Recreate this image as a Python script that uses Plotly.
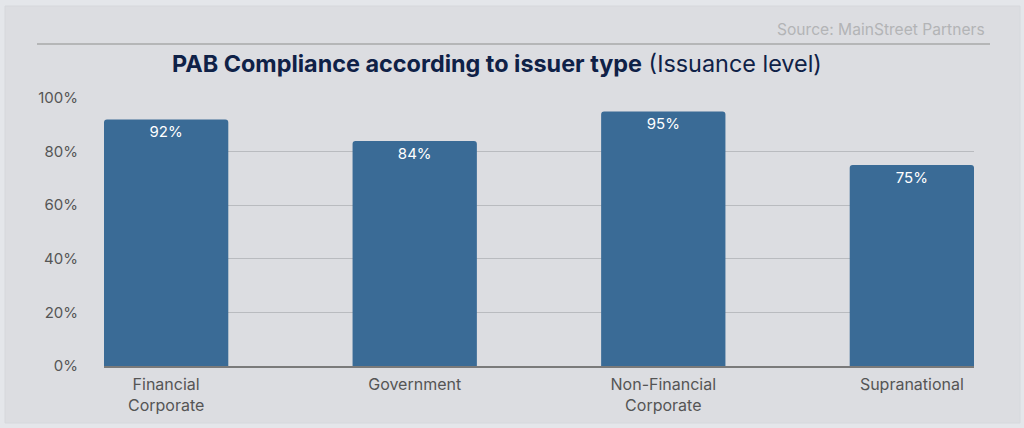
import plotly.graph_objects as go

categories = ["Financial<br>Corporate", "Government", "Non-Financial<br>Corporate", "Supranational"]
values = [92, 84, 95, 75]
tick_vals = [0, 20, 40, 60, 80, 100]
tick_text = ["0%", "20%", "40%", "60%", "80%", "100%"]

W, H = 1024, 428
L, R, T, B = 104, 974, 98, 366

def px(x):
    return (x - L) / (R - L)

def py(y):
    return (B - y) / (B - T)

fig = go.Figure()
fig.add_trace(go.Bar(
    x=categories, y=values,
    text=[f"{v}%" for v in values],
    textposition="inside", insidetextanchor="end",
    textfont=dict(color="white", size=15, family="Inter"),
    marker=dict(color="#3a6b96", cornerradius=3, line=dict(width=0)),
    width=0.5,
    hoverinfo="skip",
))

fig.update_layout(
    width=W, height=H,
    margin=dict(l=L, r=W - R, t=T, b=H - B, pad=0),
    paper_bgcolor="#e4e6ea",
    plot_bgcolor="rgba(0,0,0,0)",
    showlegend=False,
    font=dict(family="Inter", color="#555555"),
    xaxis=dict(
        range=[-0.25, 3.25], showgrid=False, showline=True,
        linecolor="#7a7a7a", linewidth=1.5, ticks="",
        tickfont=dict(size=16, color="#555555"), fixedrange=True,
        ticklabelstandoff=3,
    ),
    yaxis=dict(
        range=[0, 100], tickvals=tick_vals, ticktext=tick_text,
        showgrid=True, gridcolor="#b9bbbf", gridwidth=1,
        zeroline=False, showline=False, ticks="",
        tickfont=dict(size=15, color="#555555"),
        ticklabelstandoff=25, fixedrange=True,
    ),
    shapes=[
        dict(type="rect", xref="paper", yref="paper",
             x0=px(5), x1=px(1020), y0=py(423), y1=py(6),
             fillcolor="#dcdde1", line=dict(color="#d6d8dc", width=1), layer="below"),
        dict(type="line", xref="paper", yref="paper",
             x0=px(37), x1=px(990), y0=py(44), y1=py(44),
             line=dict(color="#a9a9a9", width=1.5), layer="below"),
    ],
    annotations=[
        dict(xref="paper", yref="paper", x=px(497), y=py(64),
             xanchor="center", yanchor="middle", showarrow=False,
             text="<b>PAB Compliance according to issuer type</b> (Issuance level)",
             font=dict(size=23.4, color="#0f2147", family="Inter")),
        dict(xref="paper", yref="paper", x=px(987), y=py(30),
             xanchor="right", yanchor="middle", showarrow=False,
             text="Source: MainStreet Partners",
             font=dict(size=15.6, color="#b3b4b6", family="Inter")),
    ],
)

fig.write_html(
    "out.html",
    config={"displayModeBar": False},
    post_script="document.body.style.margin='0';document.body.style.background='#e4e6ea';",
)
